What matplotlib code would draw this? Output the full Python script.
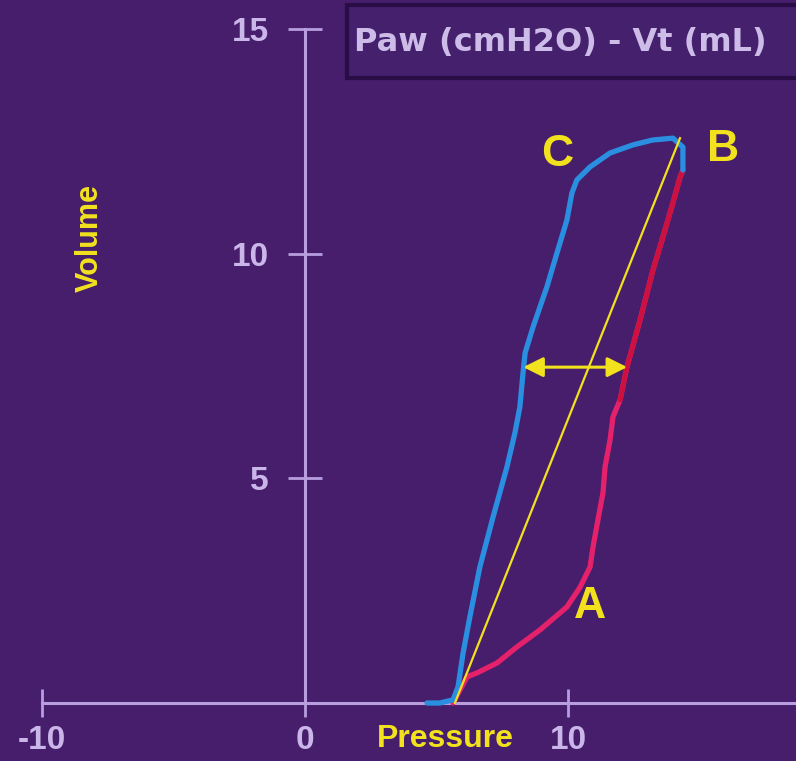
import matplotlib
matplotlib.use("Agg")
import matplotlib.pyplot as plt
from matplotlib.patches import Rectangle

# Pressure-volume loop (Paw vs Vt)
insp_pressure = [5.63, 6.16, 6.54, 7.30, 8.06, 8.94, 9.96, 10.46, 10.84, 10.95, 11.14,
                 11.33, 11.41, 11.60, 11.71, 11.98, 12.24, 12.74, 13.23, 13.61, 13.99,
                 14.26, 14.37]
insp_volume = [0.00, 0.58, 0.67, 0.89, 1.25, 1.63, 2.14, 2.58, 3.03, 3.47, 4.08,
               4.68, 5.26, 5.86, 6.37, 6.75, 7.48, 8.53, 9.64, 10.38, 11.14,
               11.71, 11.87]
exp_pressure = [14.37, 14.37, 13.99, 13.23, 12.47, 11.60, 10.84, 10.34, 10.15, 9.96,
                9.58, 9.20, 8.67, 8.37, 8.29, 8.17, 7.98, 7.68, 7.15, 6.65, 6.27,
                6.01, 5.82, 5.63, 5.13, 4.64]
exp_volume = [11.87, 12.38, 12.58, 12.54, 12.43, 12.25, 11.94, 11.65, 11.36, 10.76,
              10.02, 9.27, 8.37, 7.80, 7.35, 6.59, 6.01, 5.26, 4.14, 3.03, 1.92,
              1.11, 0.36, 0.07, 0.00, 0.00]

# compliance line from start of inspiration to peak
compliance_p = [5.70, 14.26]
compliance_v = [0.00, 12.58]

# hysteresis width marker
hyst_v = 7.48
hyst_p = [8.30, 12.25]

point_labels = ["A", "B", "C"]
point_p = [10.85, 15.90, 9.58]
point_v = [2.16, 12.32, 12.22]

x_ticks = [-10, 0, 10, 20]
y_ticks = [5, 10, 15]

title = "Paw (cmH2O) - Vt (mL)"

BG = "#461e6b"
AXIS = "#b89ede"
TICKTXT = "#cbb6ea"
YELLOW = "#f2e21e"
RED = "#e4216a"
RED_DARK = "#cc1140"
BLUE = "#2a8fe0"

fig = plt.figure(figsize=(7.96, 7.61), dpi=100, facecolor=BG)
ax = fig.add_axes([0, 0, 1, 1], facecolor=BG)

ax.set_xticks(x_ticks)
ax.set_yticks(y_ticks)
ax.set_xticklabels([str(t) for t in x_ticks])
ax.set_yticklabels([str(t) for t in y_ticks])
# limits after the ticks so the 20 tick does not widen the view
ax.set_xlim(-11.597, 18.67)
ax.set_ylim(-1.292, 15.657)

for s in ["top", "right"]:
    ax.spines[s].set_visible(False)
ax.spines["left"].set_position(("data", 0))
ax.spines["bottom"].set_position(("data", 0))
ax.spines["left"].set_bounds(0, 15)
ax.spines["bottom"].set_bounds(-10, 20)
for s in ["left", "bottom"]:
    ax.spines[s].set_color(AXIS)
    ax.spines[s].set_linewidth(2.2)
    ax.spines[s].set_zorder(1)

ax.tick_params(axis="x", direction="inout", length=20, width=2, color=AXIS,
               labelcolor=TICKTXT, pad=6, labelsize=24)
ax.tick_params(axis="y", direction="inout", length=24, width=2, color=AXIS,
               labelcolor=TICKTXT, pad=14, labelsize=24)
for lab in ax.get_xticklabels() + ax.get_yticklabels():
    lab.set_fontfamily("Liberation Sans")
    lab.set_fontweight("bold")

# inspiratory limb: pink at the bottom, deeper crimson in the upper part
ax.plot(insp_pressure, insp_volume, color=RED, lw=3.8, solid_capstyle="round",
        solid_joinstyle="round", zorder=3)
upper = 15
ax.plot(insp_pressure[upper:], insp_volume[upper:], color=RED_DARK, lw=3.6,
        solid_capstyle="round", solid_joinstyle="round", zorder=3)
# expiratory limb
ax.plot(exp_pressure, exp_volume, color=BLUE, lw=3.8, solid_capstyle="round",
        solid_joinstyle="round", zorder=3)
ax.plot(compliance_p, compliance_v, color=YELLOW, lw=1.6, zorder=4)

ax.annotate("", xy=(hyst_p[0], hyst_v), xytext=(hyst_p[1], hyst_v),
            arrowprops=dict(arrowstyle="<|-|>", color=YELLOW, lw=2.2,
                            mutation_scale=30, shrinkA=0, shrinkB=0),
            zorder=5)

for lab, p, v in zip(point_labels, point_p, point_v):
    ax.text(p, v, lab, color=YELLOW, fontsize=32, fontweight="bold",
            family="Liberation Sans", ha="center", va="center", zorder=6)

ax.text(-8.17, 10.36, "Volume", color=YELLOW, fontsize=22, fontweight="bold",
        family="Liberation Sans", rotation=90, ha="center", va="center")
ax.text(5.32, -0.80, "Pressure", color=YELLOW, fontsize=23, fontweight="bold",
        family="Liberation Sans", ha="center", va="center")

# title box in the upper right corner
fig.patches.append(Rectangle((347 / 796, 1 - 78 / 761), 0.6, 73 / 761,
                             transform=fig.transFigure, facecolor="#44206d",
                             edgecolor="#2a0c46", lw=3, zorder=0))
fig.text(354 / 796, 1 - 42 / 761, title, color="#cdbbe8", fontsize=23,
         fontweight="bold", family="DejaVu Sans", ha="left", va="center")

fig.savefig("out.png", dpi=100, facecolor=BG)
